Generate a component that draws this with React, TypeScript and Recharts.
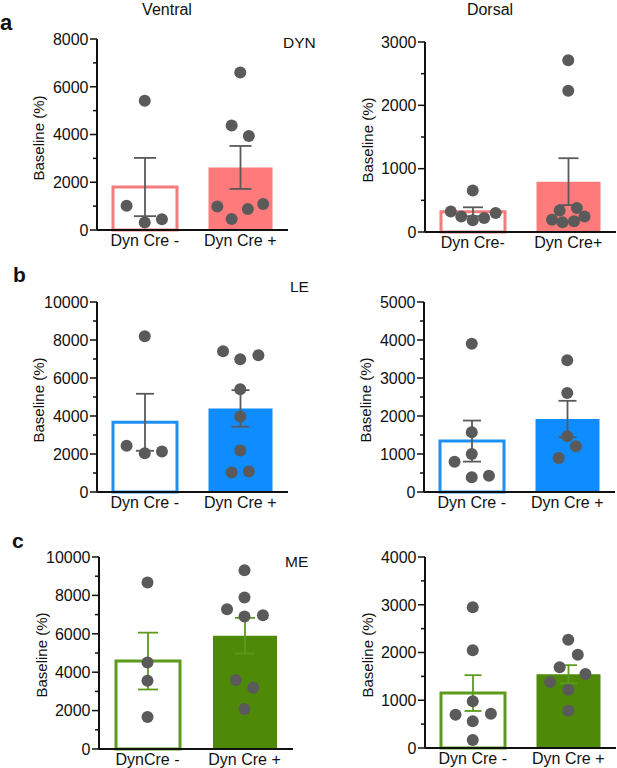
import React from 'react';
import { ComposedChart, Bar, Cell, ErrorBar, Scatter, XAxis, YAxis, Label } from 'recharts';

const FONT = "'Liberation Sans', Arial, Helvetica, sans-serif";

// ---- category tick labels ----
const dynVentralLabels = ['Dyn Cre -', 'Dyn Cre +'];
const dynDorsalLabels = ['Dyn Cre-', 'Dyn Cre+'];
const leVentralLabels = ['Dyn Cre -', 'Dyn Cre +'];
const leDorsalLabels = ['Dyn Cre -', 'Dyn Cre +'];
const meVentralLabels = ['DynCre -', 'Dyn Cre +'];
const meDorsalLabels = ['Dyn Cre -', 'Dyn Cre +'];

// ---- bar means and SEM ----
const dynVentralMean = [1800, 2620];
const dynVentralSem = [1220, 900];
const dynDorsalMean = [320, 795];
const dynDorsalSem = [70, 370];
const leVentralMean = [3670, 4400];
const leVentralSem = [1500, 960];
const leDorsalMean = [1340, 1920];
const leDorsalSem = [540, 480];
const meVentralMean = [4580, 5900];
const meVentralSem = [1480, 930];
const meDorsalMean = [1150, 1545];
const meDorsalSem = [375, 190];

// ---- individual points: [jitter within category, value] ----
const dynVentralMinus = [[-0.19, 1020], [0, 5410], [0, 310], [0.18, 450]];
const dynVentralPlus = [[0, 6600], [-0.09, 4380], [0.09, 3940], [-0.24, 980], [-0.09, 460], [0.08, 880], [0.24, 1090]];
const dynDorsalMinus = [[-0.23, 325], [-0.12, 246], [0, 656], [0, 184], [0.12, 220], [0.24, 300]];
const dynDorsalPlus = [[0, 2711], [0, 2229], [-0.09, 341], [0.09, 378], [-0.17, 194], [-0.06, 152], [0.06, 168], [0.17, 246]];
const leVentralMinus = [[-0.19, 2430], [0, 8199], [0, 2045], [0.18, 2133]];
const leVentralPlus = [[-0.18, 7413], [0, 6993], [0.19, 7203], [0, 5402], [0, 3969], [0, 2185], [-0.09, 1031], [0.09, 1084]];
const leDorsalMinus = [[0, 3904], [0, 1570], [0, 1000], [-0.18, 798], [0, 386], [0.18, 430]];
const leDorsalPlus = [[0, 3465], [0, 2605], [0, 1465], [0.09, 1202], [-0.09, 895]];
const meVentralMinus = [[0, 8666], [0, 4506], [0, 3553], [0, 1664]];
const meVentralPlus = [[0, 9307], [0, 7886], [-0.18, 7279], [0, 6898], [0.19, 6967], [-0.09, 3588], [0.09, 3189], [0, 2080]];
const meDorsalMinus = [[0, 2946], [0, 2045], [0, 977], [-0.18, 698], [0.19, 719], [0, 558], [0, 168]];
const meDorsalPlus = [[0, 2269], [0.1, 1955], [-0.09, 1689], [0.18, 1550], [-0.19, 1382], [0, 1222], [0, 782]];

const PINK_OPEN = '#F47C7C';
const PINK_FILL = '#FF7B7B';
const BLUE_OPEN = '#1E90F5';
const BLUE_FILL = '#0F8CFF';
const GREEN_OPEN = '#5C9B1E';
const GREEN_FILL = '#4E8A08';
const GREY = '#5A5A5A';
const INK = '#111111';

type PanelProps = {
  left: number;
  top: number;
  width: number;
  axisX: number;
  plotRight: number;
  yTop: number;
  yBottom: number;
  yMax: number;
  minor: number;
  major: number;
  labels: string[];
  means: number[];
  sems: number[];
  minusPts: number[][];
  plusPts: number[][];
  openColor: string;
  fillColor: string;
  errColor: string;
  capHalf: number;
  yLabelX: number;
  yLabelCY: number;
};

function Panel(p: PanelProps) {
  const height = p.yBottom + 30 - p.top;
  const axisLocal = p.axisX - p.left;
  const data = p.labels.map((name, i) => ({ name, mean: p.means[i], sem: p.sems[i] }));
  const pts = [
    ...p.minusPts.map(([dx, v]) => ({ x: dx, y: v })),
    ...p.plusPts.map(([dx, v]) => ({ x: 1 + dx, y: v })),
  ];
  const ticks: number[] = [];
  for (let v = 0; v <= p.yMax; v += p.minor) ticks.push(v);

  const renderTick = (tp: any) => {
    const v = tp.payload.value;
    const isMajor = Math.abs(v % p.major) < 1e-6;
    const y = tp.y;
    return (
      <g>
        <line x1={axisLocal - (isMajor ? 7 : 4)} x2={axisLocal} y1={y} y2={y} stroke={INK} strokeWidth={1.5} />
        {isMajor && (
          <text x={axisLocal - 8.5} y={y} dy="0.36em" textAnchor="end" fontSize={16} fill={INK} fontFamily={FONT}>
            {v}
          </text>
        )}
      </g>
    );
  };

  const lx = p.yLabelX - p.left;
  const ly = p.yLabelCY - p.top;
  const renderYLabel = () => (
    <text
      x={lx}
      y={ly}
      dy="0.36em"
      transform={`rotate(-90 ${lx} ${ly})`}
      textAnchor="middle"
      fontSize={15}
      fill={INK}
      fontFamily={FONT}
    >
      Baseline (%)
    </text>
  );

  return (
    <div style={{ position: 'absolute', left: p.left, top: p.top }}>
      <ComposedChart
        width={p.width}
        height={height}
        data={data}
        margin={{ top: p.yTop - p.top, right: p.width - (p.plotRight - p.left), bottom: 0, left: 0 }}
      >
        <XAxis
          xAxisId="cat"
          dataKey="name"
          type="category"
          tickLine={false}
          tickSize={3}
          interval={0}
          height={30}
          axisLine={{ stroke: INK, strokeWidth: 2 }}
          tick={{ fontSize: 16, fill: INK, fontFamily: FONT }}
        />
        <XAxis xAxisId="num" type="number" dataKey="x" domain={[-0.5, 1.5]} hide />
        <YAxis
          width={axisLocal}
          domain={[0, p.yMax]}
          ticks={ticks}
          interval={0}
          tickLine={false}
          axisLine={{ stroke: INK, strokeWidth: 2 }}
          tick={renderTick}
        >
          <Label content={renderYLabel} />
        </YAxis>
        <Bar xAxisId="cat" dataKey="mean" barSize={64} isAnimationActive={false}>
          <Cell fill="#ffffff" stroke={p.openColor} strokeWidth={3} />
          <Cell fill={p.fillColor} stroke={p.fillColor} strokeWidth={0} />
          <ErrorBar dataKey="sem" width={p.capHalf} stroke={p.errColor} strokeWidth={1.8} direction="y" />
        </Bar>
        <Scatter
          xAxisId="num"
          data={pts}
          dataKey="y"
          fill={GREY}
          isAnimationActive={false}
          shape={(sp: any) => <circle cx={sp.cx} cy={sp.cy} r={6} fill={GREY} />}
        />
      </ComposedChart>
    </div>
  );
}

export default function App() {
  return (
    <div
      style={{
        position: 'absolute',
        left: 0,
        top: 0,
        width: 617,
        height: 768,
        overflow: 'hidden',
        background: '#ffffff',
        fontFamily: FONT,
      }}
    >
      <Panel
        left={0} top={0} width={300} axisX={97} plotRight={288} yTop={39} yBottom={230}
        yMax={8000} minor={1000} major={2000}
        labels={dynVentralLabels} means={dynVentralMean} sems={dynVentralSem}
        minusPts={dynVentralMinus} plusPts={dynVentralPlus}
        openColor={PINK_OPEN} fillColor={PINK_FILL} errColor={GREY} capHalf={11}
        yLabelX={39} yLabelCY={138}
      />
      <Panel
        left={308} top={0} width={309} axisX={425} plotRight={616} yTop={42} yBottom={232}
        yMax={3000} minor={500} major={1000}
        labels={dynDorsalLabels} means={dynDorsalMean} sems={dynDorsalSem}
        minusPts={dynDorsalMinus} plusPts={dynDorsalPlus}
        openColor={PINK_OPEN} fillColor={PINK_FILL} errColor={GREY} capHalf={10}
        yLabelX={368} yLabelCY={140}
      />
      <Panel
        left={0} top={260} width={300} axisX={97} plotRight={288} yTop={302} yBottom={492}
        yMax={10000} minor={1000} major={2000}
        labels={leVentralLabels} means={leVentralMean} sems={leVentralSem}
        minusPts={leVentralMinus} plusPts={leVentralPlus}
        openColor={BLUE_OPEN} fillColor={BLUE_FILL} errColor={GREY} capHalf={9}
        yLabelX={39} yLabelCY={400}
      />
      <Panel
        left={308} top={260} width={309} axisX={424} plotRight={615} yTop={302} yBottom={492}
        yMax={5000} minor={500} major={1000}
        labels={leDorsalLabels} means={leDorsalMean} sems={leDorsalSem}
        minusPts={leDorsalMinus} plusPts={leDorsalPlus}
        openColor={BLUE_OPEN} fillColor={BLUE_FILL} errColor={GREY} capHalf={9}
        yLabelX={366} yLabelCY={400}
      />
      <Panel
        left={0} top={505} width={300} axisX={99} plotRight={293} yTop={557} yBottom={749}
        yMax={10000} minor={1000} major={2000}
        labels={meVentralLabels} means={meVentralMean} sems={meVentralSem}
        minusPts={meVentralMinus} plusPts={meVentralPlus}
        openColor={GREEN_OPEN} fillColor={GREEN_FILL} errColor={GREEN_OPEN} capHalf={10}
        yLabelX={42} yLabelCY={655}
      />
      <Panel
        left={308} top={505} width={309} axisX={425} plotRight={616} yTop={557} yBottom={748}
        yMax={4000} minor={500} major={1000}
        labels={meDorsalLabels} means={meDorsalMean} sems={meDorsalSem}
        minusPts={meDorsalMinus} plusPts={meDorsalPlus}
        openColor={GREEN_OPEN} fillColor={GREEN_FILL} errColor={GREEN_OPEN} capHalf={8.5}
        yLabelX={368} yLabelCY={655}
      />
      <svg
        width={617}
        height={768}
        style={{ position: 'absolute', left: 0, top: 0, pointerEvents: 'none' }}
        fontFamily={FONT}
      >
        <text x={167} y={14.5} textAnchor="middle" fontSize={16} fill={INK}>Ventral</text>
        <text x={490} y={14.5} textAnchor="middle" fontSize={16} fill={INK}>Dorsal</text>
        <text x={0} y={30} fontSize={22} fontWeight="bold" fill={INK}>a</text>
        <text x={13} y={282} fontSize={21} fontWeight="bold" fill={INK}>b</text>
        <text x={12} y={548} fontSize={21} fontWeight="bold" fill={INK}>c</text>
        <text x={283} y={48} fontSize={15.5} fill={INK}>DYN</text>
        <text x={290} y={292} fontSize={15.5} fill={INK}>LE</text>
        <text x={285} y={567} fontSize={15.5} fill={INK}>ME</text>
      </svg>
    </div>
  );
}
